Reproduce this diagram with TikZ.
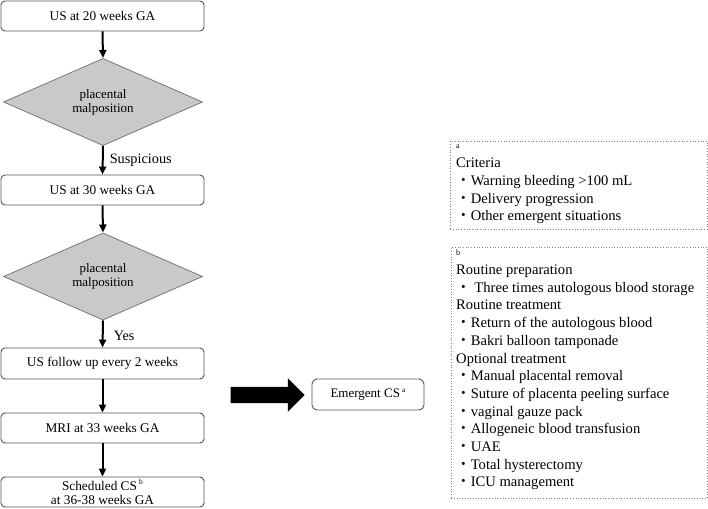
\documentclass[tikz,border=0pt]{standalone}
\usepackage{fontspec}
\setmainfont{Liberation Serif}
\newfontfamily\jpfont{Noto Sans CJK JP}
\usetikzlibrary{shapes.geometric,shapes.arrows,arrows.meta}
\definecolor{boxgray}{HTML}{555555}
\definecolor{diagray}{HTML}{777777}
\definecolor{diafill}{HTML}{C9C9C9}
\definecolor{dotgray}{HTML}{808080}
\newcommand\supmark[1]{\,\raisebox{0.42em}{\fontsize{7.5}{7.5}\selectfont #1}}
\newcommand\bul{{\jpfont ・}}
\begin{document}
\begin{tikzpicture}[x=1pt,y=-1pt,
  flowbox/.style={draw=boxgray, line width=0.9pt, rounded corners=4pt, minimum width=203pt, minimum height=30pt, inner sep=0pt, font=\fontsize{13.3}{14}\selectfont, align=center},
  decision/.style={diamond, draw=diagray, fill=diafill, line width=0.8pt, minimum width=199pt, minimum height=76pt, inner sep=0pt, align=center, font=\fontsize{13}{14}\selectfont},
  flow/.style={-{Triangle[length=8pt,width=7pt]}, line width=2pt},
  edgelabel/.style={anchor=west, inner sep=0pt, font=\fontsize{14.3}{14}\selectfont},
  notebox/.style={draw=dotgray, dotted, line width=0.7pt, anchor=north west, inner sep=0pt},
  noteline/.style={anchor=base west, inner sep=0pt, font=\fontsize{14.6}{14}\selectfont},
  notetag/.style={anchor=base west, inner sep=0pt, font=\fontsize{8}{8}\selectfont},
]
\useasboundingbox (0,0) rectangle (708,508);

% left flowchart
\node[flowbox] (us20) at (102.5,16) {US at 20 weeks GA};
\node[decision] (d1) at (103,102) {placental\\malposition};
\node[flowbox] (us30) at (102.5,190) {US at 30 weeks GA};
\node[decision, minimum height=75pt] (d2) at (103,276.5) {placental\\malposition};
\node[flowbox, minimum height=31pt] (usf) at (102.5,363.5) {US follow up every 2 weeks};
\node[flowbox] (mri) at (102.5,428) {MRI at 33 weeks GA};
\node[flowbox, font=\fontsize{13.3}{14}\selectfont] (sched) at (102.5,492) {Scheduled CS\supmark{b}\\at 36-38 weeks GA};

\draw[flow] (us20.south) -- (d1.north);
\draw[flow] (d1.south) -- node[edgelabel, xshift=6pt] (lsus) {Suspicious} (us30.north);
\draw[flow] (us30.south) -- (d2.north);
\draw[flow] (d2.south) -- node[edgelabel, xshift=10pt, yshift=-2pt] (lyes) {Yes} (usf.north);
\draw[flow] (usf.south) -- (mri.north);
\draw[flow] (mri.south) -- (sched.north);

% big arrow and emergent CS
\node[single arrow, fill=black, draw=none, inner sep=8pt, minimum height=74pt, single arrow head extend=8.5pt] (big) at (263.5,395) {};
\node[flowbox, minimum width=112pt, minimum height=31pt, rounded corners=5pt, font=\fontsize{13}{14}\selectfont] (emerg) at (368,394.5) {Emergent CS\supmark{a}};

% note boxes
\node[notebox, minimum width=257pt, minimum height=88pt] (boxa) at (450,141) {};
\node[notebox, minimum width=256pt, minimum height=251pt] (boxb) at (451,247) {};

\node[notetag] (taga) at (456,148) {a};
\node[notetag] (tagb) at (456,255.5) {b};

\foreach \t [count=\i from 0] in {Criteria, \bul Warning bleeding >100 mL, \bul Delivery progression, \bul Other emergent situations}
  \node[noteline] (a\i) at (456,167.5+17.8*\i) {\t};

\foreach \t [count=\i from 0] in {Routine preparation, \bul\ Three times autologous blood storage, Routine treatment, \bul Return of the autologous blood, \bul Bakri balloon tamponade, Optional treatment, \bul Manual placental removal, \bul Suture of placenta peeling surface, \bul vaginal gauze pack, \bul Allogeneic blood transfusion, \bul UAE, \bul Total hysterectomy, \bul ICU management}
  \node[noteline] (b\i) at (456,274.5+17.7*\i) {\t};
\end{tikzpicture}
\end{document}
